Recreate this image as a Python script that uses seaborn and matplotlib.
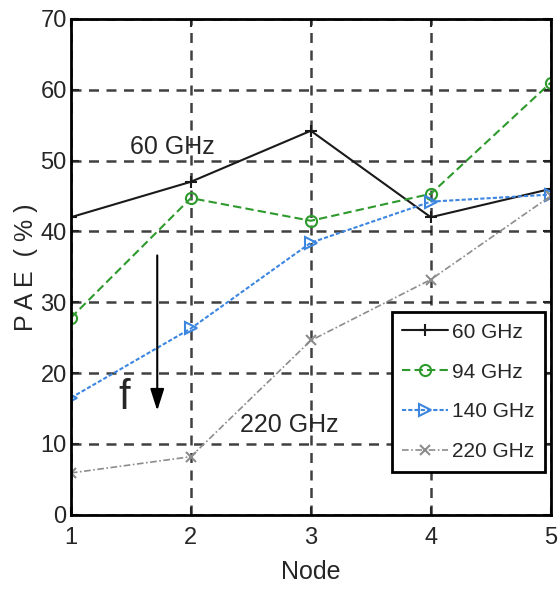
import matplotlib
matplotlib.use("Agg")
import matplotlib.pyplot as plt
import seaborn as sns
import pandas as pd

nodes = [1, 2, 3, 4, 5]
pae_60 = [42.0, 47.0, 54.2, 42.0, 46.0]
pae_94 = [27.8, 44.7, 41.5, 45.3, 61.0]
pae_140 = [16.5, 26.3, 38.4, 44.2, 45.2]
pae_220 = [5.9, 8.2, 24.6, 33.2, 45.0]
labels = ["60 GHz", "94 GHz", "140 GHz", "220 GHz"]

sns.set_theme(style="white")
plt.rcParams['font.family'] = ['Liberation Sans', 'DejaVu Sans']

fig = plt.figure(figsize=(5.58, 5.89), dpi=100)
ax = fig.add_axes([0.127, 0.126, 0.860, 0.842])

df = pd.DataFrame({"Node": nodes * 4,
                   "PAE": pae_60 + pae_94 + pae_140 + pae_220,
                   "Freq": sum([[l] * len(nodes) for l in labels], [])})

styles = {
    "60 GHz": dict(color="#1a1a1a", ls="-", marker="+", lw=1.5, ms=9, mfc="none"),
    "94 GHz": dict(color="#2e9a2e", ls=(0, (4, 2)), marker="o", lw=1.5, ms=8, mfc="none"),
    "140 GHz": dict(color="#3c86e0", ls=(0, (2, 1)), marker=">", lw=1.5, ms=8, mfc="none"),
    "220 GHz": dict(color="#8c8c8c", ls=(0, (4, 1.5, 1, 1.5)), marker="x", lw=1.2, ms=7, mfc="none"),
}
for lab in labels:
    st = styles[lab]
    sub = df[df.Freq == lab]
    sns.lineplot(data=sub, x="Node", y="PAE", ax=ax, color=st["color"], linestyle=st["ls"],
                 marker=st["marker"], lw=st["lw"], markersize=st["ms"], markerfacecolor=st["mfc"],
                 markeredgecolor=st["color"], markeredgewidth=1.5, label=lab)

ax.set_xlim(1, 5)
ax.set_ylim(0, 70)
ax.set_xticks(nodes)
ax.set_yticks(range(0, 71, 10))
ax.grid(True, color="black", ls=(0, (4, 3)), lw=1.8, alpha=0.75)
ax.tick_params(direction="in", length=6, width=1.5, labelsize=17,
               left=True, bottom=True, right=True, top=True)
ax.tick_params(axis="x", pad=9)
ax.tick_params(axis="y", pad=3)
for s in ax.spines.values():
    s.set_color("black")
    s.set_linewidth(2)
ax.set_xlabel("Node", fontsize=18, labelpad=8)
ax.set_ylabel("P A E  ( % )", fontsize=18, labelpad=2)

leg = ax.legend(loc="lower right", bbox_to_anchor=(0.9875, 0.087), borderaxespad=0,
                fontsize=15, frameon=True, fancybox=False, edgecolor="black",
                handlelength=2.2, handletextpad=0.2, borderpad=0.5, labelspacing=1.0)
leg.get_frame().set_linewidth(2)
leg.get_frame().set_alpha(1)

ax.text(1.49, 51.9, "60 GHz", fontsize=18, va="center", ha="left")
ax.text(2.41, 12.7, "220 GHz", fontsize=18, va="center", ha="left")
ax.text(1.4, 16.5, "f", fontsize=30, va="center", ha="left")
ax.annotate("", xy=(1.72, 14.3), xytext=(1.72, 37),
            arrowprops=dict(arrowstyle="-|>,head_width=0.35,head_length=1.1", color="black", lw=1.5))

fig.savefig("out.png", dpi=100)
